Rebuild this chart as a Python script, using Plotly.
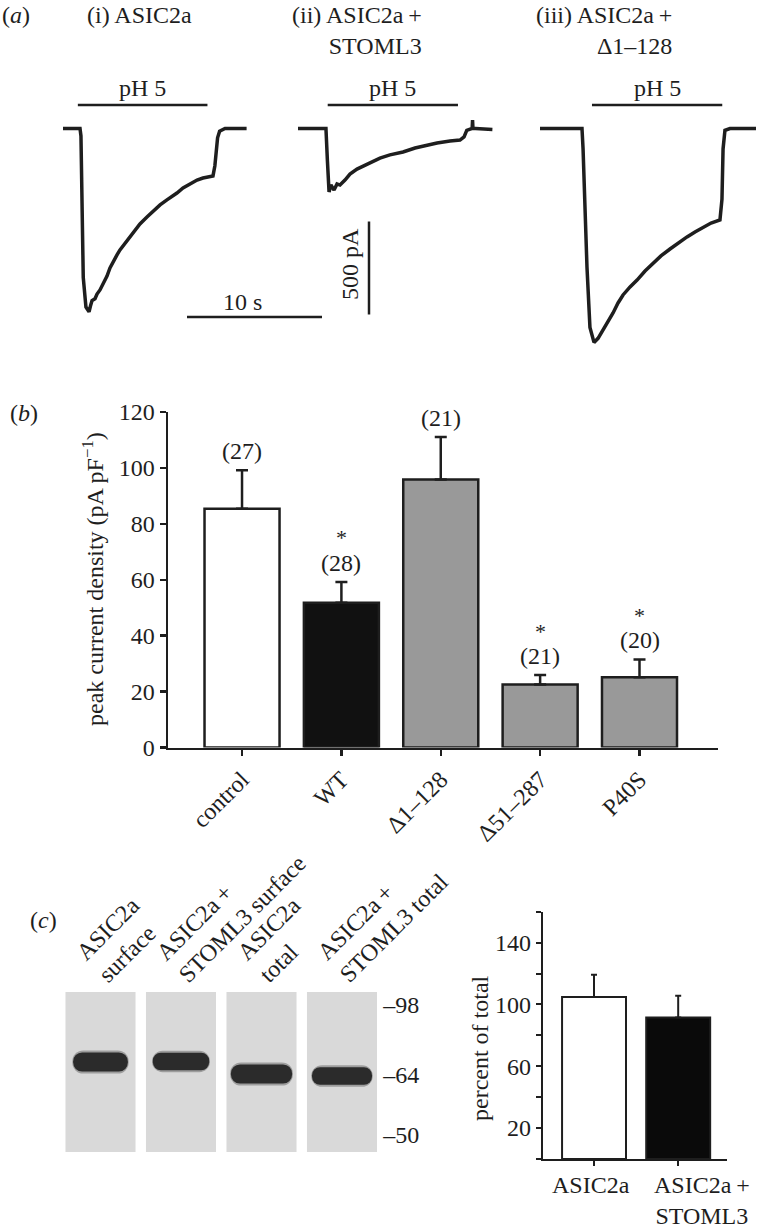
import plotly.graph_objects as go

W, H = 757, 1228
FONT_FAMILY = "Liberation Serif, Times New Roman, serif"
INK = "#1e1e1e"
FS = 24

# ---------------- (a) whole-cell current traces (time s, current pA) ----------------
trace_titles = ["(i) ASIC2a", "(ii) ASIC2a\u2009+<br>STOML3", "(iii) ASIC2a\u2009+<br>Δ1–128"]

trace_i_t = [0, 1.26, 1.33, 1.5, 1.7, 1.93, 2.05, 2.15, 2.37, 2.52, 2.74, 2.96, 3.26, 3.48,
             3.70, 4.0, 4.22, 4.59, 4.96, 5.33, 5.70, 6.22, 6.67, 7.19, 7.70, 8.07, 8.44,
             8.89, 9.41, 9.93, 10.37, 10.89, 11.11, 11.25, 11.35, 11.45, 11.6, 12.0, 13.6]
trace_i_pA = [0, 0, -40, -800, -960, -985, -950, -925, -915, -890, -868, -836, -793, -750,
              -718, -680, -653, -616, -583, -546, -513, -476, -444, -411, -384, -368, -347,
              -320, -298, -277, -266, -261, -255, -200, -120, -50, -15, 0, 0]

trace_ii_t = [0, 2.07, 2.18, 2.30, 2.44, 2.67, 2.89, 3.11, 3.48, 3.85, 4.37, 4.81, 5.33,
              6.07, 6.81, 7.78, 8.67, 9.56, 10.3, 11.26, 12.0, 12.3, 12.5, 12.7, 12.9, 12.93,
              12.96, 13.15, 14.4]
trace_ii_pA = [0, 0, -175, -341, -304, -331, -298, -304, -277, -245, -218, -202, -185,
               -159, -142, -126, -105, -89, -78, -67, -62, -45, -10, -5, 0, 45,
               0, 0, -5]

trace_iii_t = [0, 3.11, 3.19, 3.48, 3.70, 4.0, 4.30, 4.67, 5.04, 5.41, 5.78, 6.15, 6.67,
               7.19, 7.78, 8.37, 8.96, 9.63, 10.22, 10.89, 11.48, 12.07, 12.67, 13.33, 13.48,
               13.56, 13.7, 14.07, 16.0]
trace_iii_pA = [0, 0, -110, -745, -1070, -1150, -1128, -1085, -1040, -992, -938, -895, -852,
                -815, -766, -723, -685, -648, -616, -583, -556, -530, -508, -492, -380,
                -110, -10, 0, 0]

ph_on_s = [1.1, 2.2, 3.85]
ph_off_s = [10.7, 11.85, 13.5]
ph_label = "pH 5"
scale_time_s = 10
scale_current_pA = 500

# ---------------- (b) peak current density ----------------
groups = ["control", "WT", "Δ1–128", "Δ51–287", "P40S"]
density = [85.4, 51.8, 95.9, 22.5, 25.1]
density_sem = [13.8, 7.4, 15.2, 3.4, 6.4]
n_cells = [27, 28, 21, 21, 20]
significant = [False, True, False, True, True]
group_colors = ["#ffffff", "#111111", "#999999", "#999999", "#999999"]

# ---------------- (c) surface biotinylation blot ----------------
lane_labels = ["ASIC2a<br>surface", "ASIC2a\u2009+<br>STOML3 surface",
               "ASIC2a<br>total", "ASIC2a\u2009+<br>STOML3 total"]
marker_text = ["–98", "–64", "–50"]
marker_mobility = [0.081, 0.519, 0.894]
band_mobility = [0.4375, 0.434, 0.5125, 0.525]
band_thickness = [0.12, 0.11, 0.12, 0.11]
band_width = [0.68, 0.70, 0.76, 0.745]

surface_groups = ["ASIC2a", "ASIC2a\u2009+<br>STOML3"]
surface_pct = [104.8, 91.6]
surface_sem = [14.4, 14.0]
surface_colors = ["#ffffff", "#0a0a0a"]


def px_x(px):
    return px / W


def px_y(px):
    return 1 - px / H


PX_PER_S = 135 / 10
PX_PER_PA = 93 / 500
A_TOP, A_BOTTOM, A_BASE = 40, 360, 128.5


def pa_at(px):
    return (A_BASE - px) / PX_PER_PA


def font(size=FS, **kw):
    d = dict(family=FONT_FAMILY, size=size, color=INK)
    d.update(kw)
    return d


fig = go.Figure()
annotations = []

# ---- panel (a)
record_start_px = [63, 298, 540]
records = [(trace_i_t, trace_i_pA), (trace_ii_t, trace_ii_pA), (trace_iii_t, trace_iii_pA)]
ph_level = pa_at(105)
for (t, cur), start_px, on, off in zip(records, record_start_px, ph_on_s, ph_off_s):
    off_s = start_px / PX_PER_S
    fig.add_trace(go.Scatter(x=[off_s + v for v in t], y=cur, mode="lines",
                             line=dict(color=INK, width=3.5), xaxis="x", yaxis="y",
                             showlegend=False, hoverinfo="skip"))
    fig.add_trace(go.Scatter(x=[off_s + on, off_s + off], y=[ph_level, ph_level], mode="lines",
                             line=dict(color=INK, width=2.5), xaxis="x", yaxis="y",
                             showlegend=False, hoverinfo="skip"))
    annotations.append(dict(x=off_s + (on + off) / 2, y=pa_at(88), xref="x", yref="y",
                            text=ph_label, showarrow=False, font=font(),
                            xanchor="center", yanchor="middle"))

# scale bars
sb_x0 = 187 / PX_PER_S
sb_y = pa_at(317)
fig.add_trace(go.Scatter(x=[sb_x0, sb_x0 + scale_time_s], y=[sb_y, sb_y], mode="lines",
                         line=dict(color=INK, width=2.5), xaxis="x", yaxis="y",
                         showlegend=False, hoverinfo="skip"))
annotations.append(dict(x=px_x(242), y=px_y(302), xref="paper", yref="paper",
                        text=f"{scale_time_s} s", showarrow=False, font=font(),
                        xanchor="center", yanchor="middle"))
vb_x = 369 / PX_PER_S
vb_y0 = -1000
fig.add_trace(go.Scatter(x=[vb_x, vb_x], y=[vb_y0, vb_y0 + scale_current_pA], mode="lines",
                         line=dict(color=INK, width=2.5), xaxis="x", yaxis="y",
                         showlegend=False, hoverinfo="skip"))
annotations.append(dict(x=px_x(350), y=px_y(264), xref="paper", yref="paper",
                        text=f"{scale_current_pA} pA", showarrow=False, font=font(),
                        textangle=-90, xanchor="center", yanchor="middle"))

# titles
annotations.append(dict(x=0, y=px_y(15), xref="paper", yref="paper", text="(<i>a</i>)",
                        showarrow=False, font=font(), xanchor="left", yanchor="middle"))
title_right_px = [194, 424, 674]
for txt, rpx in zip(trace_titles, title_right_px):
    annotations.append(dict(x=px_x(rpx), y=px_y(0), xref="paper", yref="paper", text=txt,
                            showarrow=False, font=font(), xanchor="right", yanchor="top",
                            align="right"))

# ---- panel (b)
fig.add_trace(go.Bar(x=groups, y=density, xaxis="x2", yaxis="y2", width=0.755,
                     marker=dict(color=group_colors, line=dict(color=INK, width=2.5)),
                     error_y=dict(type="data", array=density_sem, arrayminus=[0] * len(groups),
                                  symmetric=False, color=INK, thickness=2.5, width=6),
                     showlegend=False, hoverinfo="skip"))
for g, m, s, n, sig in zip(groups, density, density_sem, n_cells, significant):
    annotations.append(dict(x=g, y=m + s, xref="x2", yref="y2", text=f"({n})",
                            showarrow=False, font=font(), xanchor="center",
                            yanchor="middle", yshift=19))
    if sig:
        annotations.append(dict(x=g, y=m + s, xref="x2", yref="y2", text="*",
                                showarrow=False, font=font(22), xanchor="center",
                                yanchor="middle", yshift=44))
annotations.append(dict(x=px_x(8), y=px_y(413), xref="paper", yref="paper", text="(<i>b</i>)",
                        showarrow=False, font=font(), xanchor="left", yanchor="middle"))
annotations.append(dict(x=px_x(93), y=px_y(579), xref="paper", yref="paper",
                        text="peak current density (pA pF<sup>−1</sup>)", showarrow=False,
                        font=font(), textangle=-90, xanchor="center", yanchor="middle"))

# ---- panel (c) blot
lane_idx = list(range(len(lane_labels)))
fig.add_trace(go.Bar(x=lane_idx, y=[1] * len(lane_idx), base=[0] * len(lane_idx),
                     xaxis="x3", yaxis="y3", width=0.87,
                     marker=dict(color="#d9d9d9", line=dict(width=0)),
                     showlegend=False, hoverinfo="skip"))
fig.add_trace(go.Bar(x=lane_idx, y=[t + 0.025 for t in band_thickness],
                     base=[m - (t + 0.025) / 2 for m, t in zip(band_mobility, band_thickness)],
                     xaxis="x3", yaxis="y3", width=[w + 0.02 for w in band_width],
                     marker=dict(color="rgba(45,45,45,0.35)", line=dict(width=0),
                                 cornerradius=11),
                     showlegend=False, hoverinfo="skip"))
fig.add_trace(go.Bar(x=lane_idx, y=band_thickness,
                     base=[m - t / 2 for m, t in zip(band_mobility, band_thickness)],
                     xaxis="x3", yaxis="y3", width=band_width,
                     marker=dict(color="#2b2b2b", line=dict(width=0), cornerradius=9),
                     showlegend=False, hoverinfo="skip"))
for i, lab in zip(lane_idx, lane_labels):
    annotations.append(dict(x=i, y=px_y(990), xref="x3", yref="paper", text=lab,
                            showarrow=False, font=font(), textangle=-45, align="left",
                            xanchor="left", yanchor="bottom", xshift=-32))
annotations.append(dict(x=px_x(28), y=px_y(920), xref="paper", yref="paper", text="(<i>c</i>)",
                        showarrow=False, font=font(), xanchor="left", yanchor="middle"))

# ---- panel (c) surface fraction bars
fig.add_trace(go.Bar(x=surface_groups, y=surface_pct, xaxis="x4", yaxis="y4", width=0.76,
                     marker=dict(color=surface_colors, line=dict(color=INK, width=2)),
                     error_y=dict(type="data", array=surface_sem,
                                  arrayminus=[0] * len(surface_groups), symmetric=False,
                                  color=INK, thickness=2, width=3),
                     showlegend=False, hoverinfo="skip"))
label_shift_px = [-3, 24]
for g, sh in zip(surface_groups, label_shift_px):
    annotations.append(dict(x=g, y=px_y(1170), xref="x4", yref="paper", text=g,
                            showarrow=False, font=font(), xanchor="center", yanchor="top",
                            align="center", xshift=sh))
annotations.append(dict(x=px_x(480), y=px_y(1048), xref="paper", yref="paper",
                        text="percent of total", showarrow=False, font=font(),
                        textangle=-90, xanchor="center", yanchor="middle"))

axis_common = dict(showgrid=False, zeroline=False, fixedrange=True)
fig.update_layout(
    width=W, height=H, margin=dict(l=0, r=0, t=0, b=0),
    template="none", paper_bgcolor="white", plot_bgcolor="rgba(0,0,0,0)",
    barmode="overlay", showlegend=False, hovermode=False,
    font=font(),
    xaxis=dict(domain=[0, 1], range=[0, W / PX_PER_S], visible=False, anchor="y", **axis_common),
    yaxis=dict(domain=[px_y(A_BOTTOM), px_y(A_TOP)], range=[pa_at(A_BOTTOM), pa_at(A_TOP)],
               visible=False, anchor="x", **axis_common),
    xaxis2=dict(domain=[px_x(168), px_x(718)], range=[-0.745, 4.79], anchor="y2",
                type="category", showline=True, linewidth=2.5, linecolor=INK,
                ticks="outside", ticklen=6, tickwidth=2.5, tickcolor=INK,
                tickangle=-45, tickfont=font(), **axis_common),
    yaxis2=dict(domain=[px_y(747.5), px_y(412)], range=[0, 120], anchor="x2",
                tickvals=[0, 20, 40, 60, 80, 100, 120], showline=True, linewidth=2.5,
                linecolor=INK, ticks="outside", ticklen=6, tickwidth=2.5, tickcolor=INK,
                tickfont=font(), **axis_common),
    xaxis3=dict(domain=[px_x(60.25), px_x(382.25)], range=[-0.5, 3.5], anchor="y3",
                visible=False, **axis_common),
    yaxis3=dict(domain=[px_y(1152), px_y(992)], range=[1, 0], anchor="x3", side="right",
                tickvals=marker_mobility, ticktext=marker_text, ticks="", showline=False,
                tickfont=font(), **axis_common),
    xaxis4=dict(domain=[px_x(542.7), px_x(727)], range=[-0.61, 1.58], anchor="y4",
                type="category", showline=True, linewidth=2, linecolor=INK,
                ticks="outside", ticklen=5, tickwidth=2, tickcolor=INK,
                showticklabels=False, **axis_common),
    yaxis4=dict(domain=[px_y(1159), px_y(911.7)], range=[0, 160], anchor="x4",
                tickvals=[20, 60, 100, 140], showline=True, linewidth=2,
                linecolor=INK, ticks="outside", ticklen=5, tickwidth=2, tickcolor=INK,
                minor=dict(tick0=0, dtick=20, ticks="outside", ticklen=5, tickwidth=2,
                           tickcolor=INK, showgrid=False),
                tickfont=font(), **axis_common),
    annotations=annotations,
)

fig.write_html("out.html", config={"displayModeBar": False, "staticPlot": True},
               post_script="document.body.style.margin='0';")
